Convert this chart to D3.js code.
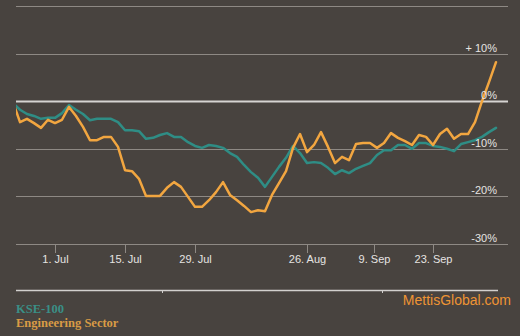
<!DOCTYPE html>
<html>
<head>
<meta charset="utf-8">
<script src="https://cdn.jsdelivr.net/npm/d3@7"></script>
<style>
  html, body { margin: 0; padding: 0; background: #48433f; }
  svg { display: block; }
</style>
</head>
<body>
<svg id="chart" width="520" height="336"></svg>
<script>
// Trading days (PSX), 21 Jun – 4 Oct 2019
const dates = [
  "2019-06-21","2019-06-24","2019-06-25","2019-06-26","2019-06-27","2019-06-28",
  "2019-07-01","2019-07-02","2019-07-03","2019-07-04","2019-07-05",
  "2019-07-08","2019-07-09","2019-07-10","2019-07-11","2019-07-12",
  "2019-07-15","2019-07-16","2019-07-17","2019-07-18","2019-07-19",
  "2019-07-22","2019-07-23","2019-07-24","2019-07-25","2019-07-26",
  "2019-07-29","2019-07-30","2019-07-31","2019-08-01","2019-08-02",
  "2019-08-05","2019-08-06","2019-08-07","2019-08-08","2019-08-09",
  "2019-08-16","2019-08-19","2019-08-20","2019-08-21","2019-08-22","2019-08-23",
  "2019-08-26","2019-08-27","2019-08-28","2019-08-29","2019-08-30",
  "2019-09-02","2019-09-03","2019-09-04","2019-09-05","2019-09-06",
  "2019-09-11","2019-09-12","2019-09-13",
  "2019-09-16","2019-09-17","2019-09-18","2019-09-19","2019-09-20",
  "2019-09-23","2019-09-24","2019-09-25","2019-09-26","2019-09-27",
  "2019-09-30","2019-10-01","2019-10-02","2019-10-03","2019-10-04"
];

// Cumulative change, %
const kse100 = [
  -0.4, -1.8, -2.7, -3.1, -3.7, -3.5, -3.5, -2.5, -0.8, -1.8,
  -2.7, -4.0, -3.7, -3.7, -3.7, -4.4, -6.1, -6.1, -6.3, -7.9,
  -7.7, -7.1, -6.7, -7.5, -7.5, -8.6, -9.4, -9.8, -9.2, -9.4,
  -9.8, -10.9, -11.7, -13.4, -14.9, -16.1, -18.0, -15.9, -13.8, -11.9,
  -9.4, -10.9, -13.0, -12.8, -13.0, -14.0, -15.3, -14.5, -15.1, -14.2,
  -13.6, -13.0, -11.3, -10.3, -10.3, -9.2, -9.2, -10.0, -8.8, -8.8,
  -9.4, -9.6, -10.0, -10.5, -9.0, -8.6, -8.2, -7.5, -6.5, -5.6
];
const engineering = [
  -0.2, -4.4, -3.7, -4.6, -5.6, -3.9, -4.6, -3.9, -1.2, -3.1,
  -5.4, -8.2, -8.2, -7.5, -7.5, -9.6, -14.5, -14.7, -16.3, -19.9,
  -19.9, -19.9, -18.2, -17.0, -18.0, -20.1, -22.2, -22.2, -20.8, -19.1,
  -17.0, -19.7, -20.8, -22.0, -23.3, -22.9, -23.1, -19.7, -17.2, -14.7,
  -9.8, -6.9, -10.7, -9.2, -6.5, -9.6, -13.0, -11.7, -12.4, -9.0,
  -8.8, -8.8, -9.8, -8.8, -6.7, -7.7, -8.4, -9.2, -7.1, -7.5,
  -9.2, -6.9, -5.8, -7.9, -6.9, -6.9, -4.4, 0.0, 4.0, 8.2
];

const yTicks = [20, 10, 0, -10, -20, -30];
const xTickDates = ["2019-07-01", "2019-07-15", "2019-07-29", "2019-08-26", "2019-09-09", "2019-09-23"];
const xTickLabels = ["1. Jul", "15. Jul", "29. Jul", "26. Aug", "9. Sep", "23. Sep"];

const seriesNames = ["KSE-100", "Engineering Sector"];
const seriesColors = ["#2f8d85", "#f2a640"];
const legendColors = ["#3a8f86", "#d99b45"];

const svg = d3.select("#chart");
const W = 520, H = 336;
const plot = { left: 16, right: 508, top: 6, bottom: 244 };

const x = d3.scaleLinear().domain([0, dates.length - 1]).range([13, 496]);
const y = d3.scaleLinear().domain([-30, 20]).range([plot.bottom, plot.top]);

// Position of a calendar date on the trading-day axis
function dateIndex(ds) {
  const i = dates.indexOf(ds);
  if (i >= 0) return i;
  const next = dates.findIndex(d => d > ds);
  return next - 0.5;
}

svg.append("rect").attr("width", W).attr("height", H).attr("fill", "#48433f");

svg.append("defs").append("clipPath").attr("id", "plotClip")
  .append("rect")
  .attr("x", plot.left).attr("y", 0)
  .attr("width", plot.right - plot.left).attr("height", plot.bottom + 2);

// Horizontal grid
svg.append("g").selectAll("line")
  .data(yTicks)
  .join("line")
  .attr("x1", plot.left).attr("x2", plot.right)
  .attr("y1", d => Math.round(y(d)) + 0.5).attr("y2", d => Math.round(y(d)) + 0.5)
  .attr("stroke", d => d === 0 ? "#d6d4d2" : "#8e8984")
  .attr("stroke-width", d => d === 0 ? 2 : 1);

// X axis ticks and labels
const xAxis = svg.append("g").attr("transform", `translate(0,${plot.bottom})`);
xTickDates.forEach((ds, i) => {
  const px = Math.round(x(dateIndex(ds))) + 0.5;
  xAxis.append("line")
    .attr("x1", px).attr("x2", px).attr("y1", 0).attr("y2", 9)
    .attr("stroke", "#8e8984").attr("stroke-width", 1);
  xAxis.append("text")
    .attr("x", px).attr("y", 19)
    .attr("text-anchor", "middle")
    .attr("font-family", "Liberation Sans, Arial, sans-serif")
    .attr("font-size", 11)
    .attr("fill", "#e6e4e2")
    .text(xTickLabels[i]);
});

// Series lines
const line = d3.line()
  .x((d, i) => x(i))
  .y(d => y(d));

const lines = svg.append("g").attr("clip-path", "url(#plotClip)");
[kse100, engineering].forEach((vals, k) => {
  lines.append("path")
    .datum(vals)
    .attr("d", line)
    .attr("fill", "none")
    .attr("stroke", seriesColors[k])
    .attr("stroke-width", 2.5)
    .attr("stroke-linejoin", "round")
    .attr("stroke-linecap", "round");
});

// Y labels on the right, above their grid lines
svg.append("g").selectAll("text")
  .data(yTicks.filter(d => d <= 10))
  .join("text")
  .attr("x", 497)
  .attr("y", d => Math.round(y(d)) - 2)
  .attr("text-anchor", "end")
  .attr("font-family", "Liberation Sans, Arial, sans-serif")
  .attr("font-size", 11)
  .attr("fill", "#e6e4e2")
  .text(d => d > 0 ? `+ ${d}%` : `${d}%`);

// Footer rule
svg.append("line")
  .attr("x1", plot.left).attr("x2", 498)
  .attr("y1", 290.5).attr("y2", 290.5)
  .attr("stroke", "#d2d0ce").attr("stroke-width", 1.5);
[162, 382].forEach(px => {
  svg.append("line")
    .attr("x1", px + 0.5).attr("x2", px + 0.5)
    .attr("y1", 290).attr("y2", 293)
    .attr("stroke", "#d2d0ce").attr("stroke-width", 1);
});

// Legend
seriesNames.forEach((name, k) => {
  svg.append("text")
    .attr("x", plot.left)
    .attr("y", 313 + k * 14)
    .attr("font-family", "Liberation Serif, 'Times New Roman', serif")
    .attr("font-weight", "bold")
    .attr("font-size", 12.5)
    .attr("fill", legendColors[k])
    .text(name);
});

// Source credit
svg.append("text")
  .attr("x", 511).attr("y", 305)
  .attr("text-anchor", "end")
  .attr("font-family", "Liberation Sans, Arial, sans-serif")
  .attr("font-size", 14)
  .attr("fill", "#ee9434")
  .text("MettisGlobal.com");
</script>
</body>
</html>
